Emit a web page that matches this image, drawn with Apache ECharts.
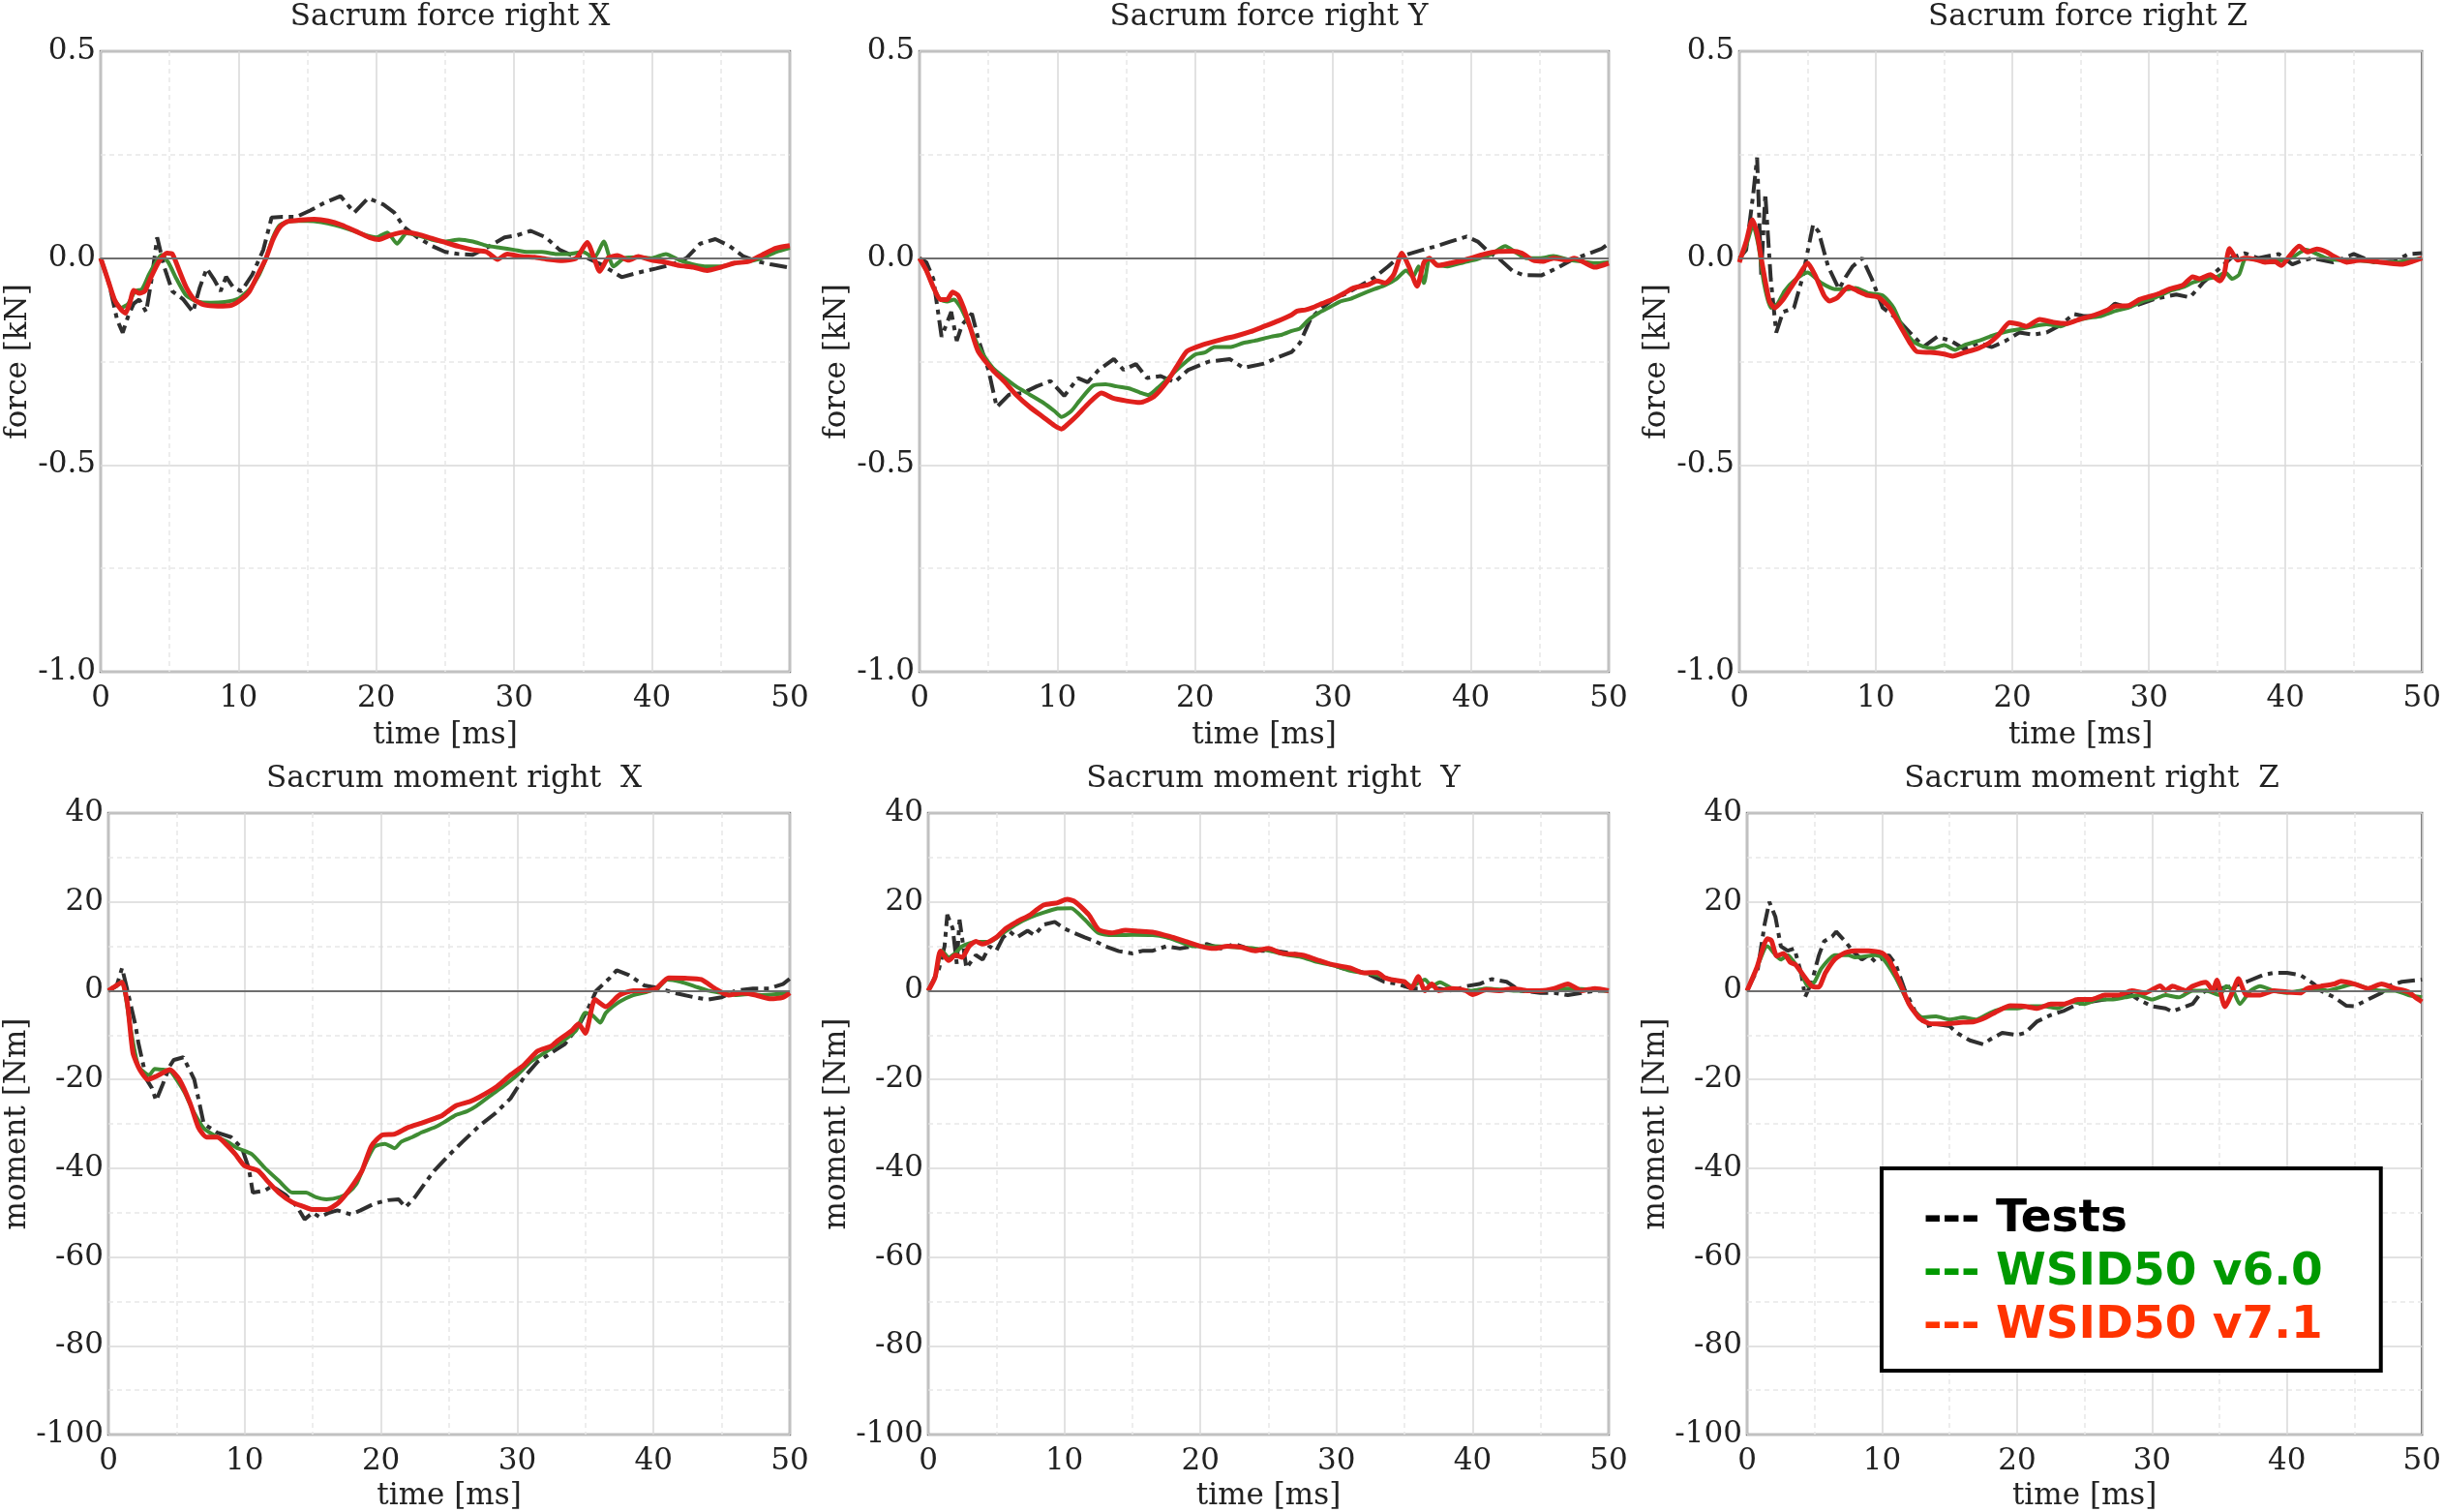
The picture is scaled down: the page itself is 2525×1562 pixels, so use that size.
<!DOCTYPE html>
<html><head><meta charset="utf-8">
<script src="https://cdn.jsdelivr.net/npm/echarts@6/dist/echarts.min.js"></script>
<style>html,body{margin:0;padding:0;background:#fff}#c{width:2525px;height:1562px}</style>
</head><body><div id="c"></div>
<script>
// ---------- axis ticks ----------
const timeTicks = [0, 10, 20, 30, 40, 50];
const forceTicks = [-1.0, -0.5, 0.0, 0.5];
const momentTicks = [-100, -80, -60, -40, -20, 0, 20, 40];
const seriesNames = ['Tests', 'WSID50 v6.0', 'WSID50 v7.1'];
const panelTitles = ['Sacrum force right X', 'Sacrum force right Y', 'Sacrum force right Z',
  'Sacrum moment right  X', 'Sacrum moment right  Y', 'Sacrum moment right  Z'];

// ---------- Sacrum force right X [kN] ----------
const fxTests = [[0,0],[0.6,-0.06],[1.2,-0.15],[1.6,-0.18],[2,-0.14],[2.4,-0.11],[2.8,-0.1],[3.3,-0.13],[3.7,-0.05],[4.1,0.05],[4.6,-0.02],[5.2,-0.08],[6,-0.1],[6.7,-0.13],[7.2,-0.07],[7.7,-0.025],[8.2,-0.05],[8.7,-0.08],[9.1,-0.045],[9.6,-0.07],[10.2,-0.08],[11,-0.04],[11.8,0.02],[12.4,0.098],[13.2,0.1],[14.2,0.1],[15.2,0.115],[16.2,0.133],[17.4,0.15],[18.4,0.11],[19.4,0.145],[20.5,0.13],[21.3,0.11],[22,0.075],[23,0.05],[24,0.03],[25,0.015],[26,0.01],[27,0.008],[28,0.025],[29.3,0.05],[30.2,0.055],[31.2,0.066],[32.3,0.05],[33.3,0.02],[34.3,0.005],[35.3,0.0],[36.3,-0.015],[37.8,-0.046],[39,-0.035],[40.3,-0.025],[41.5,-0.015],[42.5,0.0],[43.5,0.035],[44.6,0.046],[45.6,0.03],[46.6,0.005],[47.6,-0.008],[48.6,-0.015],[50,-0.023]];
const fxV60 = [[0,0],[0.5,-0.05],[1,-0.1],[1.5,-0.12],[2,-0.11],[2.5,-0.08],[3,-0.075],[3.5,-0.04],[4,-0.01],[4.4,0.008],[4.9,-0.01],[5.5,-0.05],[6.2,-0.09],[7,-0.105],[8,-0.108],[9,-0.106],[10,-0.098],[10.8,-0.075],[11.5,-0.04],[12,0.0],[12.5,0.05],[13,0.08],[14,0.09],[15,0.09],[16,0.087],[17,0.08],[18,0.07],[19,0.058],[20,0.05],[20.8,0.062],[21.5,0.035],[22.2,0.06],[23,0.055],[24,0.045],[25,0.04],[26,0.045],[27,0.04],[28,0.03],[29,0.025],[30,0.02],[31,0.015],[32,0.015],[33,0.01],[34,0.01],[35,0.015],[35.8,0.0],[36.5,0.04],[37.2,-0.02],[38,0.0],[39,0.002],[40,0.0],[41,0.01],[42,-0.005],[43,-0.015],[44,-0.02],[45,-0.02],[46,-0.012],[47,-0.008],[48,0.0],[49,0.015],[50,0.025]];
const fxV71 = [[0,0],[0.5,-0.05],[1,-0.1],[1.5,-0.125],[1.8,-0.133],[2.1,-0.11],[2.4,-0.078],[2.8,-0.085],[3.2,-0.08],[3.6,-0.05],[4.2,-0.01],[4.8,0.012],[5.2,0.01],[5.7,-0.03],[6.2,-0.07],[6.8,-0.1],[7.5,-0.113],[8.5,-0.116],[9.5,-0.114],[10.2,-0.1],[10.8,-0.08],[11.4,-0.04],[12,0.0],[12.5,0.045],[13,0.075],[13.5,0.088],[14.5,0.092],[15.5,0.094],[16.5,0.09],[17.5,0.08],[18.5,0.065],[19.5,0.05],[20.2,0.045],[21,0.055],[22,0.063],[23,0.058],[24,0.048],[25,0.038],[26,0.028],[27,0.02],[28,0.015],[28.8,-0.003],[29.5,0.01],[30.5,0.004],[31.5,0.002],[32.5,-0.003],[33.5,-0.006],[34.5,0.0],[35.3,0.038],[35.8,0.0],[36.2,-0.032],[36.8,0.0],[37.5,0.006],[38.3,-0.005],[39,0.004],[40,-0.005],[41,-0.01],[42,-0.018],[43,-0.022],[44,-0.03],[45,-0.022],[46,-0.012],[47,-0.008],[48,0.008],[49,0.024],[50,0.03]];

// ---------- Sacrum force right Y [kN] ----------
const fyTests = [[0,0],[0.5,-0.01],[1,-0.05],[1.6,-0.19],[2.3,-0.13],[2.7,-0.2],[3.1,-0.16],[3.8,-0.134],[4.3,-0.2],[5,-0.27],[5.6,-0.36],[6.5,-0.33],[7.5,-0.326],[8.5,-0.31],[9.5,-0.297],[10.5,-0.333],[11.5,-0.29],[12.2,-0.3],[13,-0.27],[14.1,-0.244],[14.8,-0.27],[15.7,-0.256],[16.5,-0.29],[17.5,-0.285],[18.5,-0.3],[19.5,-0.27],[21,-0.25],[22.5,-0.244],[23.5,-0.265],[25,-0.255],[26,-0.24],[27,-0.227],[27.6,-0.205],[28.4,-0.145],[29.2,-0.12],[30,-0.1],[31,-0.085],[31.8,-0.07],[33,-0.047],[34,-0.02],[34.7,0.0],[35.5,0.01],[36.5,0.02],[37.5,0.029],[38.5,0.04],[39.7,0.052],[40.5,0.04],[41.3,0.015],[42,0.0],[43,-0.03],[43.8,-0.041],[45.1,-0.042],[46.2,-0.025],[47.3,-0.005],[48.3,0.008],[49.5,0.023],[50,0.035]];
const fyV60 = [[0,0],[0.5,-0.03],[1,-0.07],[1.5,-0.1],[2,-0.105],[2.5,-0.1],[3,-0.12],[3.7,-0.17],[4.3,-0.215],[5.3,-0.265],[6.2,-0.29],[7,-0.31],[8,-0.33],[9,-0.35],[9.8,-0.37],[10.3,-0.384],[11,-0.37],[11.6,-0.345],[12.6,-0.308],[13.5,-0.305],[14.3,-0.31],[15.2,-0.315],[16,-0.325],[16.6,-0.331],[17.4,-0.31],[18.2,-0.285],[19,-0.26],[20,-0.233],[20.7,-0.228],[21.4,-0.215],[22.5,-0.215],[23.5,-0.205],[24.3,-0.2],[25.5,-0.19],[26.3,-0.185],[27,-0.176],[27.6,-0.17],[28.2,-0.15],[29,-0.132],[29.8,-0.118],[30.5,-0.105],[31.3,-0.098],[32,-0.088],[33,-0.075],[33.8,-0.065],[34.6,-0.05],[35.3,-0.03],[35.8,-0.045],[36.2,-0.02],[36.6,-0.06],[37,0.0],[37.5,-0.015],[38.3,-0.02],[39.5,-0.01],[40.5,-0.002],[41.5,0.01],[42.5,0.029],[43.2,0.015],[44,0.0],[45,0.0],[46,0.005],[47,-0.003],[48,-0.008],[49,-0.012],[50,-0.01]];
const fyV71 = [[0,0],[0.5,-0.03],[1,-0.07],[1.5,-0.1],[2,-0.1],[2.4,-0.082],[2.8,-0.09],[3.2,-0.12],[3.7,-0.17],[4.25,-0.225],[5.3,-0.27],[6.2,-0.3],[7,-0.33],[8,-0.36],[9,-0.385],[9.8,-0.405],[10.3,-0.413],[10.8,-0.4],[11.5,-0.378],[12.3,-0.35],[13.2,-0.326],[14,-0.338],[15,-0.345],[16,-0.349],[17,-0.335],[18,-0.297],[18.7,-0.26],[19.4,-0.225],[20.5,-0.21],[22,-0.196],[23,-0.188],[24,-0.178],[25,-0.165],[26,-0.152],[27,-0.137],[27.4,-0.128],[28,-0.125],[28.5,-0.12],[29.2,-0.11],[30,-0.099],[30.8,-0.085],[31.5,-0.072],[32.5,-0.065],[33.2,-0.055],[33.8,-0.06],[34.4,-0.04],[35,0.012],[35.5,-0.02],[36.1,-0.068],[36.6,-0.01],[37,0.0],[37.6,-0.018],[38.5,-0.012],[39.5,-0.005],[40,0.0],[41,0.01],[42,0.016],[43,0.017],[43.7,0.012],[44.5,-0.005],[45.2,-0.008],[46,0.0],[47,-0.005],[47.5,0.0],[48.2,-0.01],[49,-0.022],[50,-0.012]];

// ---------- Sacrum force right Z [kN] ----------
const fzTests = [[0,0],[0.5,0.02],[1,0.15],[1.3,0.243],[1.6,-0.04],[1.9,0.156],[2.3,-0.05],[2.7,-0.18],[3.2,-0.13],[4,-0.12],[4.6,-0.05],[5.4,0.081],[5.8,0.064],[6.5,-0.02],[7.3,-0.075],[7.8,-0.045],[8.3,-0.02],[9,0.0],[9.7,-0.05],[10.5,-0.12],[11.5,-0.145],[12.5,-0.18],[13.5,-0.214],[14.5,-0.19],[15.5,-0.2],[16.5,-0.22],[17.5,-0.205],[18.5,-0.215],[19.5,-0.2],[20.5,-0.18],[21.5,-0.185],[22.5,-0.18],[23.5,-0.162],[24.5,-0.135],[25.2,-0.14],[26,-0.14],[27,-0.125],[27.5,-0.11],[28.3,-0.118],[29,-0.115],[30.5,-0.098],[32,-0.088],[33,-0.095],[34,-0.058],[35,-0.03],[36,0.0],[37,0.012],[38,0.0],[39.5,0.01],[40.5,-0.015],[41.3,-0.005],[42,0.0],[43.5,-0.01],[45,0.01],[46.5,-0.01],[48,-0.008],[49,0.01],[50,0.012]];
const fzV60 = [[0,-0.005],[0.5,0.03],[1,0.08],[1.4,0.03],[1.8,-0.06],[2.3,-0.12],[2.8,-0.11],[3.3,-0.08],[4,-0.055],[5,-0.035],[6,-0.06],[7,-0.075],[8,-0.075],[8.5,-0.072],[9.5,-0.085],[10.5,-0.09],[11.3,-0.12],[12,-0.17],[12.7,-0.2],[13.5,-0.214],[14.2,-0.218],[15,-0.21],[15.8,-0.222],[16.5,-0.21],[17.5,-0.2],[18.5,-0.188],[19.5,-0.178],[20.5,-0.172],[21.5,-0.165],[22.5,-0.16],[23.5,-0.165],[24.5,-0.152],[25.5,-0.145],[26.5,-0.14],[27.5,-0.128],[28.5,-0.12],[29.5,-0.105],[30.5,-0.095],[31.5,-0.08],[32.5,-0.07],[33.3,-0.058],[34.2,-0.05],[35,-0.045],[35.6,-0.035],[36.1,-0.05],[36.6,-0.04],[37.1,0.0],[38,-0.005],[39,-0.01],[40,-0.003],[40.5,0.002],[41.5,0.02],[42.3,0.01],[43,0.0],[44,-0.005],[45,-0.005],[46,-0.008],[47,-0.01],[48,-0.01],[49,-0.005],[50,0.0]];
const fzV71 = [[0,-0.01],[0.5,0.04],[0.95,0.093],[1.3,0.06],[1.6,0.0],[2.2,-0.104],[2.6,-0.12],[3.2,-0.1],[3.7,-0.075],[4.3,-0.045],[5,-0.012],[5.6,-0.045],[6.2,-0.09],[6.6,-0.104],[7.2,-0.095],[8,-0.069],[8.7,-0.08],[9.4,-0.09],[10.2,-0.095],[11,-0.12],[11.8,-0.165],[12.5,-0.205],[13,-0.226],[14,-0.228],[15,-0.232],[15.6,-0.237],[16.5,-0.228],[17.5,-0.218],[18.3,-0.205],[19,-0.185],[19.8,-0.156],[20.5,-0.16],[21,-0.165],[22,-0.148],[23,-0.155],[24,-0.158],[25,-0.147],[26,-0.138],[27,-0.125],[27.5,-0.116],[28.5,-0.115],[29.3,-0.1],[30,-0.093],[30.8,-0.085],[31.5,-0.075],[32.5,-0.065],[33.2,-0.045],[33.7,-0.05],[34.5,-0.04],[35.2,-0.055],[35.5,-0.04],[35.9,0.023],[36.5,-0.005],[37,0.0],[37.8,-0.003],[38.5,-0.01],[39.2,-0.008],[39.7,-0.018],[40.3,0.005],[41,0.029],[41.6,0.015],[42.3,0.022],[43,0.015],[43.5,0.005],[44.5,-0.01],[45.5,-0.005],[46.5,-0.008],[47.5,-0.012],[48.5,-0.015],[49.3,-0.008],[50,0.0]];

// ---------- Sacrum moment right X [Nm] ----------
const mxTests = [[0,0],[0.6,1],[1,5.1],[1.4,0],[2,-8],[2.2,-11.8],[2.8,-20],[3.2,-22],[3.5,-24.8],[4,-21],[4.5,-17],[4.8,-15.6],[5.5,-15],[6.3,-20],[7,-30],[8,-32],[9,-33],[9.8,-35.5],[10.3,-40],[10.6,-45.5],[11.5,-45],[12,-44],[13,-46],[13.8,-48.5],[14.4,-51.5],[15,-50],[15.5,-51],[16.2,-50],[16.8,-49.5],[17.8,-50.4],[18.5,-49.5],[19.5,-48],[20.5,-47.2],[21.3,-47],[21.8,-48.8],[22.5,-46.5],[23.2,-43.5],[23.9,-40.6],[25,-37],[26,-34],[27.2,-30.5],[28.4,-27.6],[29.5,-24.3],[30.5,-19.5],[31.5,-16],[32.5,-14],[33.5,-12],[34.5,-8],[35.2,-4],[35.8,0],[36.8,2.9],[37.3,4.6],[38.2,3.5],[39.3,1.2],[40.5,0.5],[41.5,-0.5],[43,-1.5],[44,-2],[45,-1.5],[46,0],[47.3,0.5],[48.5,0.5],[49.5,1.5],[50,2.7]];
const mxV60 = [[0,0],[0.5,1],[1,2],[1.3,-2],[1.6,-8],[2.2,-17],[3,-19],[3.4,-17.6],[4,-17.8],[4.5,-18],[5,-20],[5.6,-23],[6.2,-27],[7,-31],[8,-33],[8.7,-34],[9.5,-35.5],[10.5,-36.8],[11.5,-40],[12.5,-42.8],[13.5,-45.5],[14.5,-45.5],[15.2,-46.5],[16,-47],[17,-46.5],[17.6,-45.5],[18.2,-43.5],[18.7,-40],[19.5,-35.2],[20.3,-34.5],[21,-35.5],[21.5,-34],[22.3,-33],[23,-31.9],[24,-30.7],[24.6,-29.7],[25.5,-28],[26.3,-27.2],[27,-26],[28,-23.7],[29,-21.5],[30,-19],[31,-16],[32,-14],[32.5,-13],[33.5,-11],[34.3,-9],[35,-5],[35.5,-5.5],[36.1,-7.2],[36.5,-5],[37.5,-2.5],[38.5,-1],[39.5,-0.3],[40.3,0.5],[41,2.5],[42,2],[43,1],[44,0],[45,-0.5],[46,-1],[47,-0.8],[48,-1],[49,-0.8],[50,-0.5]];
const mxV71 = [[0,0],[0.5,1],[1,1.9],[1.4,-3],[1.8,-14],[2.3,-17.8],[2.9,-20],[3.5,-19.3],[4,-18.5],[4.5,-17.8],[5.2,-20],[6,-25.4],[6.6,-30.8],[7.2,-33],[8,-33],[8.6,-34.5],[9.3,-36.8],[10,-39.5],[11,-40.6],[11.7,-43],[12.5,-45.5],[13.5,-47.7],[14.3,-48.6],[15,-49.3],[16,-49.3],[16.8,-48],[17.4,-46],[18,-43.5],[18.6,-40.6],[19.3,-35],[20.1,-32.5],[21,-32.3],[22,-30.8],[23,-29.8],[24,-28.7],[24.5,-28.1],[25.5,-25.9],[26.5,-25],[27.2,-24],[28.5,-21.6],[29.5,-19],[30.5,-16.7],[31.5,-13.6],[32.5,-12.5],[33,-11.2],[34,-9],[34.5,-7.5],[35,-9.6],[35.7,-2],[36.5,-3.6],[37.5,-1],[38.5,0],[39.5,0],[40.2,0.5],[41.1,2.9],[42.3,2.8],[43.5,2.5],[44.5,0.5],[45.5,-1],[46.5,-0.5],[47.5,-1],[48.5,-1.8],[49.5,-1.5],[50,-0.5]];

// ---------- Sacrum moment right Y [Nm] ----------
const myTests = [[0,0],[0.8,5],[1.2,10],[1.4,17.1],[1.8,14],[2.1,6],[2.3,16],[2.8,5.1],[3.5,8],[4,7],[4.5,10],[5,9],[5.5,12],[6,13.3],[6.5,12],[7.3,13.5],[7.8,12.5],[8.5,14.9],[9.3,15.5],[10,14],[10.7,13],[11.5,12],[12.3,11.1],[13,10],[14,8.9],[15,8.4],[15.8,9],[16.5,9],[17.5,10],[18.5,9.5],[19.5,10],[20.5,10.5],[21.5,9.5],[22.5,10.5],[23.5,9.5],[24.5,9],[25.5,9],[26.5,8.5],[27.5,8],[28.5,7],[29.5,6],[30.5,5],[31.5,4.5],[32.5,3.5],[33.5,2],[34.5,1.5],[35.5,0.5],[36.5,0.5],[37.5,0.5],[38.5,0],[39.5,1],[40.5,1.5],[41.4,2.6],[42.5,2],[43.5,0],[45,-0.5],[46,-0.5],[47,-1],[48,-0.5],[49,0],[50,0]];
const myV60 = [[0,0],[0.5,3],[1,9],[1.5,7.5],[2,8.5],[2.5,10],[3.5,11],[4.5,11],[5.5,13],[6.5,15],[7.5,16.5],[8.5,17.6],[9.5,18.5],[10.5,18.6],[11.5,16],[12.5,13],[13.5,12.5],[15,12.6],[16.5,12.5],[17.5,12],[18.5,11],[19.5,10],[21,10],[22.5,9.8],[24,9.5],[25,9],[26.5,8],[27.5,7.5],[28.5,6.5],[30,5.5],[31,4.5],[32,4],[33,3.5],[34,2.5],[35,2],[35.5,1],[36.5,2.5],[37,1],[37.6,1.9],[38.5,0.5],[40,0],[41,0.5],[43,0],[45,0],[47,0.5],[50,0]];
const myV71 = [[0,0],[0.5,3],[0.9,8.9],[1.5,6.8],[2,8],[2.5,7.5],[3,10],[3.5,11.1],[4,10.5],[5,12],[5.7,14],[6.5,15.5],[7.5,17.1],[8,18.3],[8.5,19.3],[9.5,19.8],[10.2,20.6],[10.8,20],[11.8,17.1],[12.5,13.8],[13.5,13],[14.5,13.6],[15.5,13.4],[16.5,13.2],[17,12.8],[18,12],[19,11],[20,10],[21,9.5],[22,10],[23,9.8],[24,9],[25,9.5],[26,8.4],[27.5,8],[28.5,7],[29.5,6],[31,5.1],[32,4],[33,4.1],[33.5,3],[34,2.5],[35,2],[35.5,0.5],[36,3.2],[36.5,0],[37,1.5],[37.5,0],[38.5,0.5],[39.5,0],[40,-0.9],[41,0.2],[42,0],[43,0.5],[44,0],[45,0],[46,0.5],[47,1.5],[48,0],[49,0.5],[50,0]];

// ---------- Sacrum moment right Z [Nm] ----------
const mzTests = [[0,0],[0.8,5],[1.3,15],[1.65,20],[2.1,16.6],[2.5,10],[3,9],[3.5,9.5],[4,4],[4.3,-1.4],[4.8,2],[5.3,7.8],[5.7,11.1],[6.3,12.2],[6.6,13.3],[7.3,11],[7.8,9],[8.5,7],[9,8],[9.5,6.5],[10.5,8],[11,6],[11.7,0],[12.5,-5],[13.3,-8],[14,-7.5],[15,-8],[15.6,-9.6],[16.5,-11.2],[17.5,-12.1],[18,-11],[18.9,-9.5],[20,-10],[20.6,-9.5],[21.5,-6.9],[22.5,-5.5],[23.5,-4.5],[24.5,-3],[25.5,-2.5],[26.5,-2],[27.5,-1.5],[28.5,-1],[29,-2],[30,-3.5],[31,-4],[31.5,-4.7],[33,-3],[33.5,-1],[34,0],[35,0.5],[36,1],[37,2],[38.2,3.5],[39,4],[40,4],[41,3.5],[42,1.5],[42.5,0],[43.5,-1.5],[44.4,-3.4],[45,-3.5],[46,-2],[47,-0.5],[47.5,1],[48.5,2],[50,2.5]];
const mzV60 = [[0,0],[0.7,5],[1.5,10],[2.5,7],[3,8],[4,4],[4.5,1],[5,2],[5.5,5],[6.5,8],[7.5,8],[8,7.5],[9.5,8],[10,7.5],[11,3],[12,-3],[13,-6],[14,-5.8],[15,-6.5],[16,-6],[17,-6.5],[18,-5],[19,-4],[20,-4],[21,-3.5],[22,-3.5],[23,-4],[24,-2.5],[25,-3],[26,-2],[27,-2],[28,-1.5],[29,-1],[30,-2],[31,-1],[32,-1.5],[33,0],[34,0],[35,-1],[35.5,1],[36,0],[36.5,-3],[37.3,0],[38,1],[39,0],[40,-0.5],[41,0],[42,0.5],[43,0],[44,0.8],[45,1.5],[46,0.5],[47,0],[48,0],[49,-1],[50,-1.5]];
const mzV71 = [[0,0],[0.7,5],[1.5,11.7],[1.8,11.3],[2.2,7.8],[2.7,8.4],[3.2,6.4],[3.6,5.8],[4.3,2.9],[4.8,1],[5.3,0.8],[5.8,4],[6.5,7.1],[7.3,8.6],[8,9],[9,9],[10,8.5],[10.5,7],[11.3,2],[12,-3],[12.8,-6.3],[13.5,-7.4],[14.5,-7.5],[16,-7.1],[16.8,-7],[17.7,-6],[18.5,-4.7],[19.5,-3.4],[20.5,-3.5],[21.5,-4],[22.5,-3],[23.5,-3],[24.5,-2],[25.5,-2],[26.5,-1],[27.5,-1],[28.5,0],[29.5,-0.5],[30.6,1.1],[31,0],[31.5,1],[32.5,0],[33,1],[34,1.9],[34.5,0],[34.8,2.4],[35.4,-3.6],[36,0],[36.4,2.7],[37,-1],[38,-1],[39,0],[40,-0.3],[41,-0.5],[41.5,0.5],[42.5,1],[43.5,1.5],[44,2.1],[45,1.5],[46,0.5],[46.5,1],[47,1.5],[48,0.5],[49,-0.3],[49.5,-1.5],[50,-2.5]];

// ---------- layout (pixels) ----------
const panelData = [
  [fxTests, fxV60, fxV71], [fyTests, fyV60, fyV71], [fzTests, fzV60, fzV71],
  [mxTests, mxV60, mxV71], [myTests, myV60, myV71], [mzTests, mzV60, mzV71]
];
const boxes = [
  [104, 53, 712, 641], [950, 53, 712, 641], [1797, 53, 710, 641],
  [112, 840, 704, 642], [959, 840, 703, 642], [1805, 840, 702, 642]
];
const SERIF = 'DejaVu Serif';
const TXT = '#222';
const lineColors = ['#2f2f2f', '#3f8c33', '#e0201c'];

const grid = [], xAxis = [], yAxis = [], title = [], series = [];
boxes.forEach((b, i) => {
  const isForce = i < 3;
  const ticks = isForce ? forceTicks : momentTicks;
  grid.push({left: b[0], top: b[1], width: b[2], height: b[3], show: true,
    borderColor: '#7c7c7c', borderWidth: 2.5, backgroundColor: '#fff', containLabel: false});
  title.push({text: panelTitles[i], left: b[0] + b[2] / 2, top: b[1] - 56, textAlign: 'center',
    textStyle: {fontFamily: SERIF, fontWeight: 'normal', fontSize: 31, color: TXT}});
  xAxis.push({type: 'value', gridIndex: i, min: timeTicks[0], max: timeTicks[timeTicks.length - 1],
    interval: timeTicks[1] - timeTicks[0],
    name: 'time [ms]', nameLocation: 'middle', nameGap: isForce ? 50 : 48,
    nameTextStyle: {fontFamily: SERIF, fontSize: 31, color: TXT},
    axisLine: {show: false}, axisTick: {show: false},
    axisLabel: {fontFamily: SERIF, fontSize: 31, color: TXT, margin: 12},
    splitLine: {show: true, lineStyle: {color: '#d8d8d8', width: 1.5}},
    minorTick: {show: false, splitNumber: 2},
    minorSplitLine: {show: true, lineStyle: {color: '#e8e8e8', width: 1.5, type: [5, 4]}}});
  yAxis.push({type: 'value', gridIndex: i, min: ticks[0], max: ticks[ticks.length - 1],
    interval: ticks[1] - ticks[0],
    name: isForce ? 'force [kN]' : 'moment [Nm]', nameLocation: 'middle', nameGap: isForce ? 70 : 74,
    nameTextStyle: {fontFamily: SERIF, fontSize: 31, color: TXT},
    axisLine: {show: false}, axisTick: {show: false},
    axisLabel: {fontFamily: SERIF, fontSize: 31, color: TXT, margin: 5,
      formatter: isForce ? (v => v.toFixed(1)) : (v => String(v))},
    splitLine: {show: true, lineStyle: {color: '#d8d8d8', width: 1.5}},
    minorTick: {show: false, splitNumber: 2},
    minorSplitLine: {show: true, lineStyle: {color: '#e8e8e8', width: 1.5, type: [5, 4]}}});
  panelData[i].forEach((d, k) => {
    const s = {
      name: seriesNames[k], type: 'line', xAxisIndex: i, yAxisIndex: i, data: d,
      showSymbol: false, symbol: 'none', animation: false, z: 2 + k,
      smooth: k === 0 ? false : 0.2,
      lineStyle: k === 0 ? {color: lineColors[0], width: 4, type: [18, 6, 5, 6]}
                         : {color: lineColors[k], width: k === 2 ? 5 : 4}
    };
    if (k === 0) {
      s.markLine = {silent: true, symbol: ['none', 'none'], label: {show: false}, animation: false,
        lineStyle: {color: '#6e6e6e', width: 2, type: 'solid'}, data: [{yAxis: 0}]};
    }
    series.push(s);
  });
});

const chart = echarts.init(document.getElementById('c'), null, {renderer: 'canvas'});
chart.setOption({
  backgroundColor: '#ffffff',
  animation: false,
  title, grid, xAxis, yAxis, series,
  legend: {
    data: [
      {name: seriesNames[0], textStyle: {color: '#000000'}},
      {name: seriesNames[1], textStyle: {color: '#009900'}},
      {name: seriesNames[2], textStyle: {color: '#ff3300'}}
    ],
    orient: 'vertical', left: 1944, top: 1207, icon: 'none', itemWidth: 0, itemHeight: 55, itemGap: 0,
    selectedMode: false,
    formatter: n => '--- ' + n,
    textStyle: {fontFamily: 'DejaVu Sans', fontWeight: 'bold', fontSize: 47, lineHeight: 55},
    padding: [25, 60, 19, 38], borderColor: '#000', borderWidth: 4, backgroundColor: '#fff'
  }
});
</script></body></html>
